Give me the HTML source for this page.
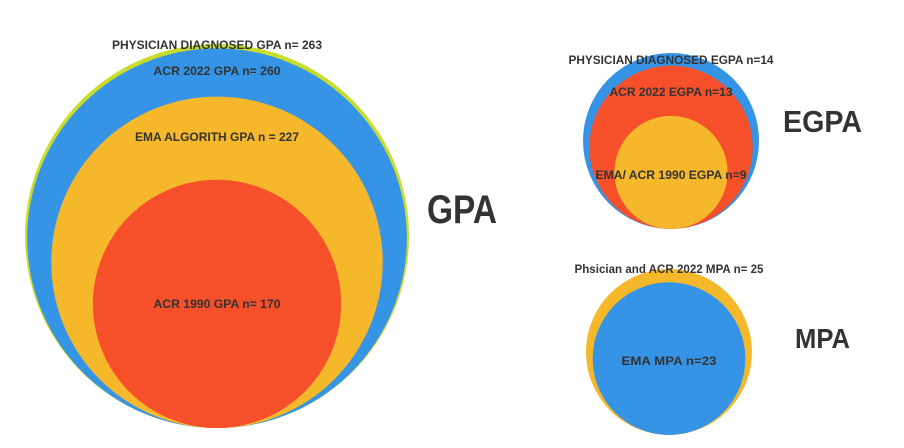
<!DOCTYPE html>
<html><head><meta charset="utf-8"><style>
html,body{margin:0;padding:0;background:#fff;}
svg{display:block;}
text{font-family:"Liberation Sans",sans-serif;font-weight:bold;fill:#333;}
</style></head><body>
<svg id="chart" width="904" height="448" viewBox="0 0 904 448" xmlns="http://www.w3.org/2000/svg">
<text x="427" y="223" style="font-size:40px" textLength="70" lengthAdjust="spacingAndGlyphs">GPA</text>
<text x="783" y="132" style="font-size:31px" textLength="79" lengthAdjust="spacingAndGlyphs">EGPA</text>
<text x="795" y="348" style="font-size:28px" textLength="55" lengthAdjust="spacingAndGlyphs">MPA</text>
</svg>
<script>
// circle data: group, label, n value, colour
const labels = ["PHYSICIAN DIAGNOSED GPA n= 263","ACR 2022 GPA n= 260","EMA ALGORITH GPA n = 227","ACR 1990 GPA n= 170",
  "PHYSICIAN DIAGNOSED EGPA n=14","ACR 2022 EGPA n=13","EMA/ ACR 1990 EGPA n=9",
  "Phsician and ACR 2022 MPA n= 25","EMA MPA n=23"];
const counts = [263,260,227,170,14,13,9,25,23];
const groups = [0,0,0,0,1,1,1,2,2];
const fills = ["#c9dc2c","#3594e6","#f6b82b","#f5502a","#3594e6","#f5502a","#f6b82b","#f6b82b","#3594e6"];
// layout per group (anchor at bottom of outermost circle)
const groupLayout = [{cx:217,bottom:428,rMax:192},{cx:671,bottom:229,rMax:88},{cx:669,bottom:435,rMax:83}];
const labelY = [45,71,137,304,60,92,175,269,361];
const labelW = [210,127,164,127,205,123,151,189,95];
const NS="http://www.w3.org/2000/svg";
const svg=document.getElementById('chart');
const firstText=svg.querySelector('text');
const groupMax=[0,0,0];
counts.forEach((c,i)=>{groupMax[groups[i]]=Math.max(groupMax[groups[i]],c);});
function radius(i){const g=groupLayout[groups[i]];return g.rMax*(counts[i]/groupMax[groups[i]]);}
counts.forEach((c,i)=>{
  const g=groupLayout[groups[i]];
  const r=radius(i);
  const circ=document.createElementNS(NS,'circle');
  circ.setAttribute('cx',g.cx);
  circ.setAttribute('cy',g.bottom-r);
  circ.setAttribute('r',r);
  circ.setAttribute('fill',fills[i]);
  
  
  svg.insertBefore(circ,firstText);
});
counts.forEach((c,i)=>{
  const g=groupLayout[groups[i]];
  const t=document.createElementNS(NS,'text');
  t.setAttribute('x',g.cx);
  t.setAttribute('y',labelY[i]+4);
  t.setAttribute('text-anchor','middle');
  t.setAttribute('textLength',labelW[i]);
  t.setAttribute('lengthAdjust','spacingAndGlyphs');
  t.setAttribute('style','font-size:12px');
  t.textContent=labels[i];
  
  
  svg.appendChild(t);
});
</script>
</body></html>
